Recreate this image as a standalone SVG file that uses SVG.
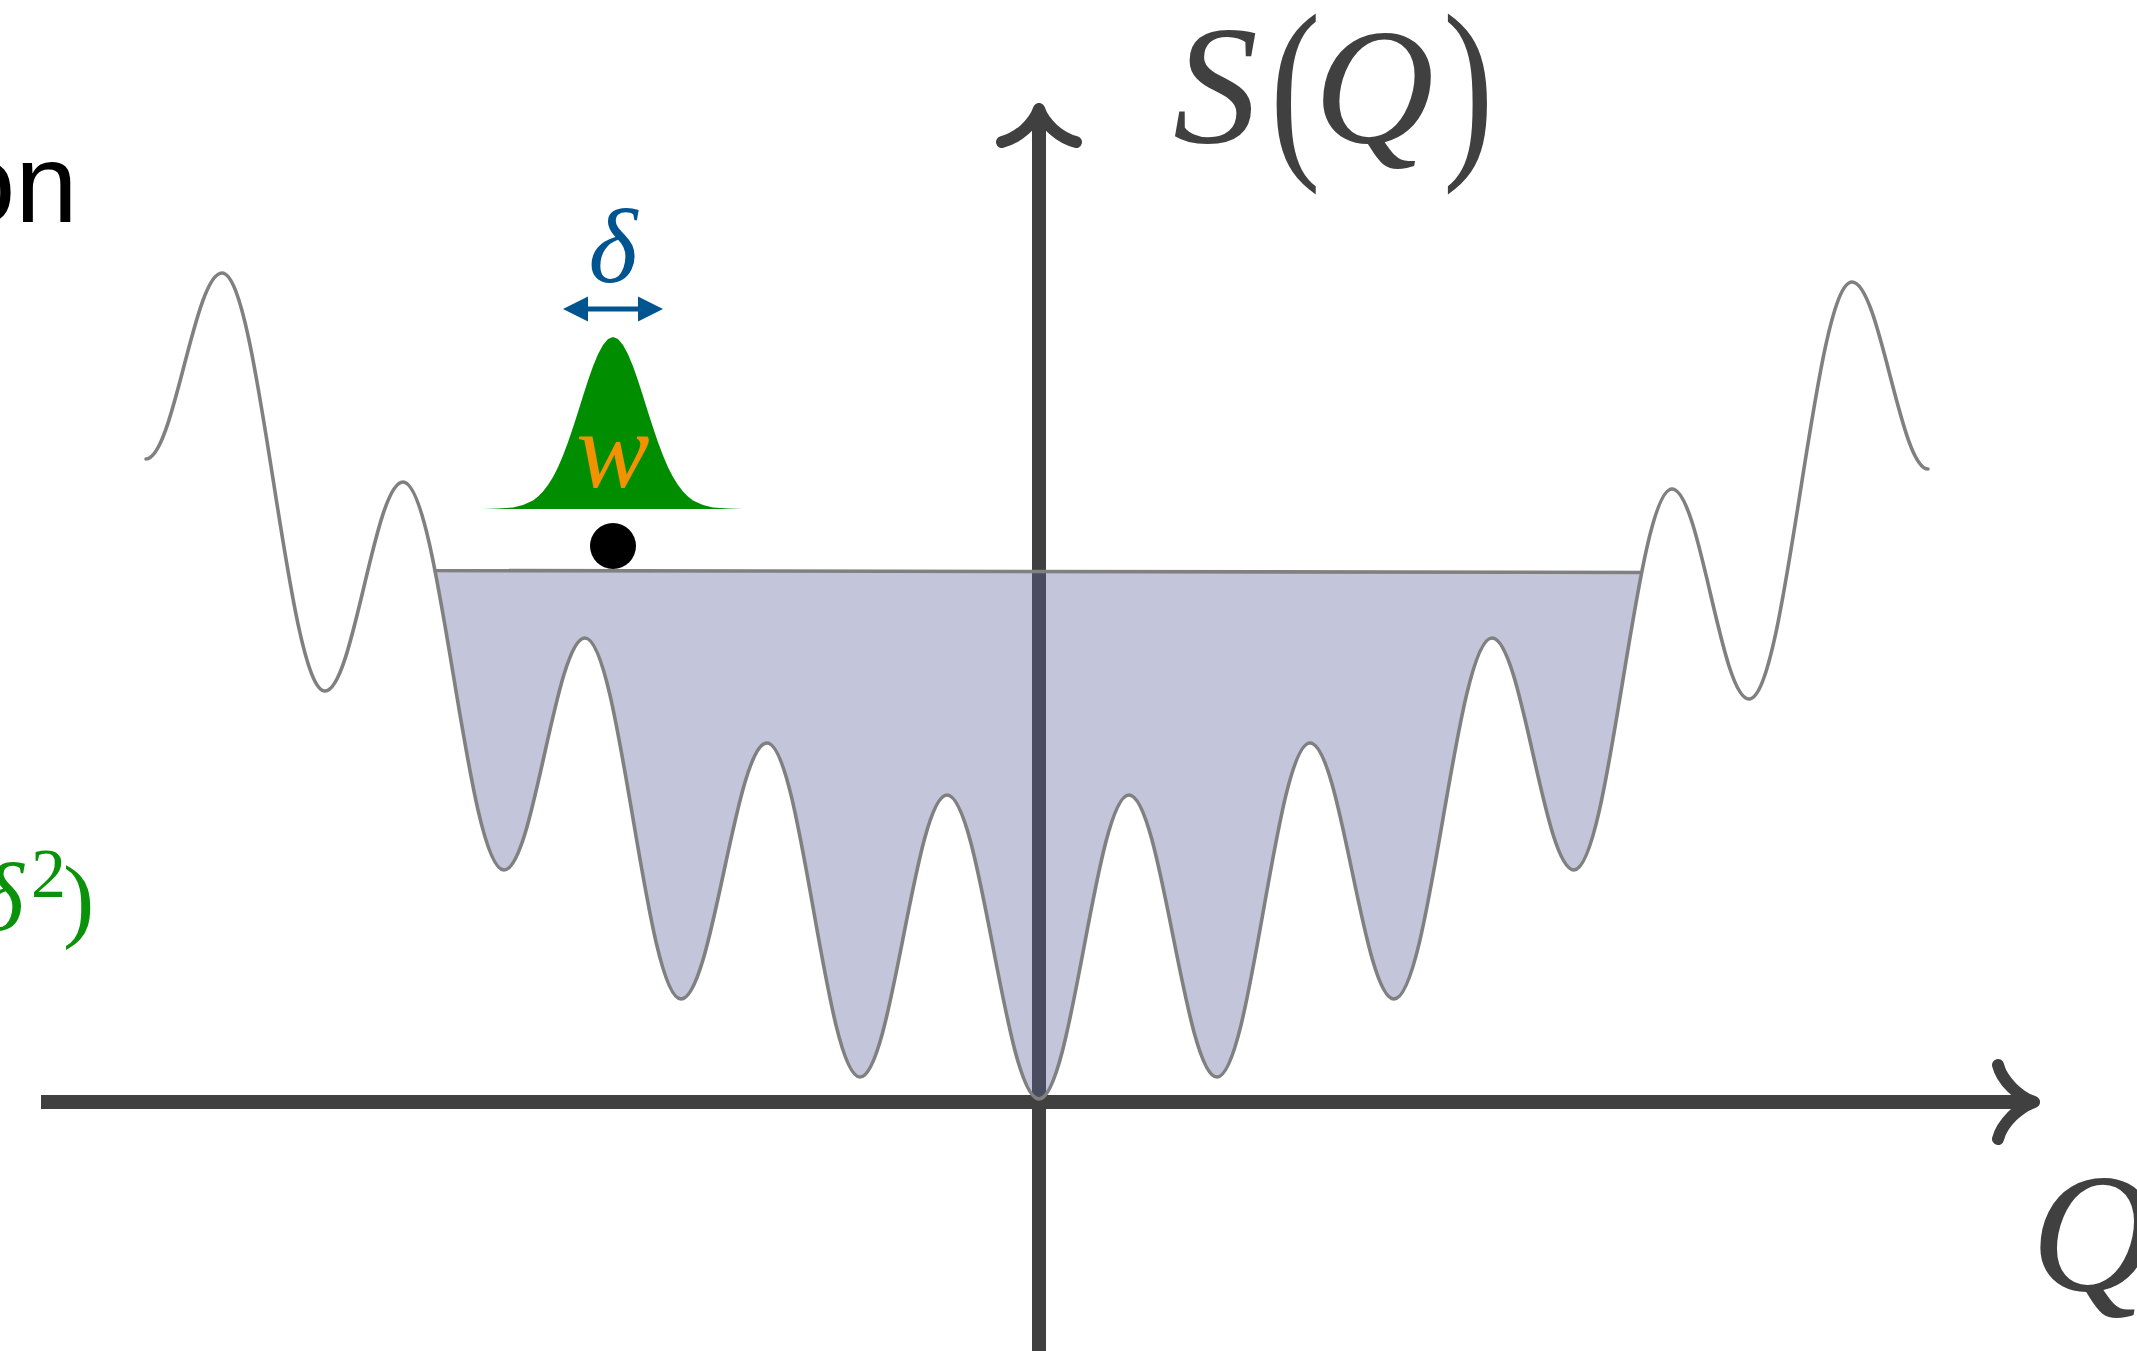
<svg xmlns="http://www.w3.org/2000/svg" width="2137" height="1351" viewBox="0 0 2137 1351">
  <style>
    .axis { stroke: #404040; stroke-width: 14; fill: none; }
    .head { stroke: #404040; stroke-width: 12; fill: none; stroke-linecap: round; stroke-linejoin: round; }
    .curve { stroke: #808080; stroke-width: 3.6; fill: none; stroke-linecap: round; stroke-linejoin: round; }
    .serif { font-family: "Liberation Serif", "DejaVu Serif", serif; }
    .math { font-family: "Liberation Serif", "DejaVu Serif", serif; font-style: italic; }
  </style>
  <defs>
    <path id="basinPath" d="M403,482 C439.8,482 467.2,870 504,870 C533.5,870 555.5,638 585,638 C619.9,638 646.1,999 681,999 C712.3,999 735.7,743 767,743 C800.9,743 826.1,1077 860,1077 C891.7,1077 915.3,795 947,795 C980.5,795 1005.5,1099 1039,1099 C1071.8,1099 1096.2,795 1129,795 C1161,795 1185,1077 1217,1077 C1250.9,1077 1276.1,743 1310,743 C1340.6,743 1363.4,999 1394,999 C1429.7,999 1456.3,638 1492,638 C1521.8,638 1544.2,870 1574,870 C1609.7,870 1636.3,489 1672,489 Z"/>
    <clipPath id="belowWater">
      <polygon points="0,569.8 2137,573.3 2137,1351 0,1351"/>
    </clipPath>
    <clipPath id="insideBasin">
      <use href="#basinPath"/>
    </clipPath>
  </defs>

  <g id="axes">
    <line class="axis" x1="1039" y1="112" x2="1039" y2="1351"/>
    <line class="axis" x1="41" y1="1102" x2="2030" y2="1102"/>
    <path class="head" d="M1002,142 C1018,138 1034,124 1039,109 M1076,142 C1060,138 1044,124 1039,109"/>
    <path class="head" d="M1998,1065 C2002,1081 2019,1097 2034,1102 M1998,1139 C2002,1123 2019,1107 2034,1102"/>
  </g>

  <g id="basin">
    <use href="#basinPath" fill="#5d629b" fill-opacity="0.37" clip-path="url(#belowWater)"/>
    <line x1="380" y1="570.4" x2="1700" y2="572.6" stroke="#808080" stroke-width="3.6" clip-path="url(#insideBasin)"/>
  </g>

  <g id="landscape">
    <path class="curve" d="M146,459 C173.7,459 194.3,273 222,273 C259.5,273 287.5,691 325,691 C353.4,691 374.6,482 403,482 C439.8,482 467.2,870 504,870 C533.5,870 555.5,638 585,638 C619.9,638 646.1,999 681,999 C712.3,999 735.7,743 767,743 C800.9,743 826.1,1077 860,1077 C891.7,1077 915.3,795 947,795 C980.5,795 1005.5,1099 1039,1099 C1071.8,1099 1096.2,795 1129,795 C1161,795 1185,1077 1217,1077 C1250.9,1077 1276.1,743 1310,743 C1340.6,743 1363.4,999 1394,999 C1429.7,999 1456.3,638 1492,638 C1521.8,638 1544.2,870 1574,870 C1609.7,870 1636.3,489 1672,489 C1700,489 1721,699 1749,699 C1786.5,699 1814.5,282 1852,282 C1879.7,282 1900.3,469 1928,469"/>
  </g>

  <g id="gaussian">
    <path fill="#008e00" d="M483,509 L498,508.6 L513,507.4 L523,505.1 L533,500.4 L538,496.6 L543,491.6 L548,485.1 L553,477.0 L558,467.2 L563,455.6 L568,442.3 L573,427.6 L578,412.0 L583,396.1 L588,380.6 L593,366.3 L598,354.2 L603,344.9 L608,339.0 L613,337 L618,339.0 L623,344.9 L628,354.2 L633,366.3 L638,380.6 L643,396.1 L648,412.0 L653,427.6 L658,442.3 L663,455.6 L668,467.2 L673,477.0 L678,485.1 L683,491.6 L688,496.6 L693,500.4 L703,505.1 L713,507.4 L728,508.6 L743,509 Z"/>
    <text class="math" x="613" y="487" font-size="110" fill="#f39200" text-anchor="middle">w</text>
  </g>

  <g id="width">
    <text class="math" x="613" y="282" font-size="105" fill="#00548f" text-anchor="middle">δ</text>
    <line x1="585" y1="309" x2="641" y2="309" stroke="#00548f" stroke-width="5"/>
    <polygon points="563,309 588,296.5 588,321.5" fill="#00548f"/>
    <polygon points="663,309 638,296.5 638,321.5" fill="#00548f"/>
  </g>

  <g id="walker">
    <circle cx="613" cy="546" r="23" fill="#000000"/>
  </g>

  <g id="labels">
    <text x="-47" y="222" font-family="Liberation Sans, Arial, sans-serif" font-size="112" fill="#000000">on</text>
    <text class="serif" fill="#0a920a">
      <tspan class="math" x="-22" y="930" font-size="98">δ</tspan><tspan x="31" y="897" font-size="70">2</tspan><tspan x="63" y="930" font-size="94">)</tspan>
    </text>
    <text class="math" x="1173" y="142" font-size="170" fill="#404040">S</text>
    <text class="serif" transform="translate(1270,152) scale(0.76,1)" x="0" y="0" font-size="200" fill="#404040">(</text>
    <text class="math" x="1314" y="142" font-size="166" fill="#404040">Q</text>
    <text class="serif" transform="translate(1443,152) scale(0.76,1)" x="0" y="0" font-size="200" fill="#404040">)</text>
    <text class="math" x="2031" y="1290" font-size="170" fill="#404040">Q</text>
  </g>
</svg>
